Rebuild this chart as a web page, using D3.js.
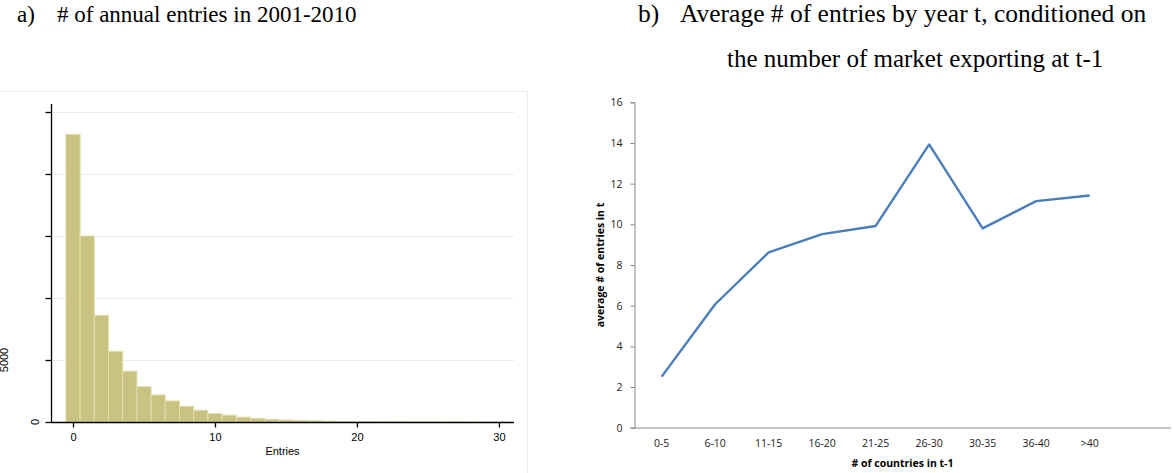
<!DOCTYPE html>
<meta charset="utf-8">
<html>
<body style="margin:0; background-color: white;">
<script src="https://d3js.org/d3.v7.min.js"></script>
<div id="chart"></div>
<script>

// panel a) histogram of annual entries (bins of width 1, centred on integers)
var entryBins = [0,1,2,3,4,5,6,7,8,9,10,11,12,13,14,15,16,17,18,19,20,21,22,23,24,25,26,27,28,29,30];
var entryCounts = [23200,15000,8600,5700,4100,2850,2180,1700,1270,950,680,550,390,300,220,160,130,100,70,40,30,20,15,10,8,5,4,3,2,1,1];
var histYTicks = [0,5000,10000,15000,20000,25000];
var histXTicks = [0,10,20,30];

// panel b) average entries by number of markets at t-1
var groups = ["0-5","6-10","11-15","16-20","21-25","26-30","30-35","36-40",">40"];
var avgEntries = [2.51,6.07,8.62,9.52,9.92,13.93,9.80,11.14,11.42];
var lineYTicks = [0,2,4,6,8,10,12,14,16];

var W = 1173, H = 473;

var svg = d3.select("#chart")
  .append("svg")
    .attr("width", W)
    .attr("height", H)
    .style("display", "block");

// ---------- titles (Times) ----------
var serif = "'Liberation Serif', 'Times New Roman', serif";
svg.append("text").attr("x", 17).attr("y", 22).text("a)")
  .attr("font-family", serif).attr("font-size", "23px");
svg.append("text").attr("x", 57).attr("y", 22).text("# of annual entries in 2001-2010")
  .attr("font-family", serif).attr("font-size", "23px");
svg.append("text").attr("x", 638).attr("y", 22).text("b)")
  .attr("font-family", serif).attr("font-size", "25.5px");
svg.append("text").attr("x", 680).attr("y", 22).text("Average # of entries by year t, conditioned on")
  .attr("font-family", serif).attr("font-size", "25.5px");
svg.append("text").attr("x", 727).attr("y", 67).text("the number of market exporting at t-1")
  .attr("font-family", serif).attr("font-size", "25px");

// ---------- panel a ----------
var sans = "'Liberation Sans', Arial, sans-serif";
var gA = svg.append("g");

// faint frame of the stata graph region
gA.append("line").attr("x1", 0).attr("x2", 527).attr("y1", 91.5).attr("y2", 91.5)
  .style("stroke", "#e6eef1");
gA.append("line").attr("x1", 527.5).attr("x2", 527.5).attr("y1", 91).attr("y2", H)
  .style("stroke", "#e6eef1");

var xA = d3.scaleLinear().domain([-1.549, 31.06]).range([51, 514]);
var yA = d3.scaleLinear().domain([0, 25645]).range([422, 104]);

// gridlines
gA.selectAll(".grid")
  .data(histYTicks.filter(function(d){ return d > 0; }))
  .enter()
  .append("line")
    .attr("x1", 52).attr("x2", 514)
    .attr("y1", function(d){ return yA(d) + 0.5; })
    .attr("y2", function(d){ return yA(d) + 0.5; })
    .style("stroke", "#e4eef1");

// bars
gA.selectAll("rect")
  .data(entryBins)
  .enter()
  .append("rect")
    .attr("x", function(d){ return xA(d - 0.5); })
    .attr("width", function(d){ return xA(d + 0.5) - xA(d - 0.5); })
    .attr("y", function(d, i){ return yA(entryCounts[i]); })
    .attr("height", function(d, i){ return yA(0) - yA(entryCounts[i]); })
    .attr("fill", "#c9c280")
    .style("stroke", "#e2deae")
    .style("stroke-width", 1);

// y axis
var yAxisA = gA.append("g")
  .attr("transform", "translate(51.5,0)")
  .call(d3.axisLeft(yA).tickValues(histYTicks).tickSize(6).tickFormat(""));
yAxisA.select(".domain").attr("d", "M0," + yA.range()[1] + "V" + (yA(0) + 0.5));
yAxisA.selectAll("line, path").style("stroke", "#000").style("stroke-width", 1.3);

gA.append("text")
  .attr("transform", "translate(39," + yA(0) + ") rotate(-90)")
  .attr("text-anchor", "middle")
  .attr("font-family", sans).attr("font-size", "11px")
  .text("0");
gA.append("text")
  .attr("transform", "translate(8," + yA(5000) + ") rotate(-90)")
  .attr("text-anchor", "middle")
  .attr("font-family", sans).attr("font-size", "11px")
  .text("5000");

// x axis
var xAxisA = gA.append("g")
  .attr("transform", "translate(0,422.5)")
  .call(d3.axisBottom(xA).tickValues(histXTicks).tickSize(5).tickPadding(6));
xAxisA.select(".domain").attr("d", "M51,0H514");
xAxisA.selectAll("line, path").style("stroke", "#000").style("stroke-width", 1.3);
xAxisA.selectAll("text").attr("font-family", sans).attr("font-size", "11px").attr("fill", "#000");

gA.append("text")
  .attr("x", 282.5).attr("y", 455)
  .attr("text-anchor", "middle")
  .attr("font-family", sans).attr("font-size", "11px")
  .text("Entries");

// ---------- panel b ----------
var excel = "'Open Sans', 'Noto Sans', sans-serif";
var gB = svg.append("g");

var xB = d3.scaleBand().domain(groups).range([634.9, 634.9 + 9 * 53.5]);
var yB = d3.scaleLinear().domain([0, 16]).range([427.7, 102.3]);

var yAxisB = gB.append("g")
  .attr("transform", "translate(634.5,0)")
  .call(d3.axisLeft(yB).tickValues(lineYTicks).tickSize(4).tickPadding(8));
yAxisB.selectAll("line, path").style("stroke", "#878787");
yAxisB.selectAll("text").attr("font-family", excel).attr("font-size", "10.5px").attr("fill", "#222");

var xAxisB = gB.append("g")
  .attr("transform", "translate(0,428)")
  .call(d3.axisBottom(xB).tickSize(0).tickPadding(12));
xAxisB.select(".domain").attr("d", "M634,0H1171");
xAxisB.selectAll("path").style("stroke", "#878787");
xAxisB.selectAll("text").attr("font-family", excel).attr("font-size", "10.5px").attr("fill", "#222");

var line = d3.line()
  .x(function(d, i){ return xB(groups[i]) + xB.bandwidth() / 2; })
  .y(function(d){ return yB(d); });

gB.append("path")
  .datum(avgEntries)
  .attr("d", line)
  .attr("fill", "none")
  .style("stroke", "#4a7ebb")
  .style("stroke-width", 2.4)
  .style("stroke-linejoin", "round");

gB.append("text")
  .attr("x", 902.5).attr("y", 467)
  .attr("text-anchor", "middle")
  .attr("font-family", excel).attr("font-size", "10.5px").attr("font-weight", "bold")
  .text("# of countries in t-1");

gB.append("text")
  .attr("transform", "translate(604,265) rotate(-90)")
  .attr("text-anchor", "middle")
  .attr("font-family", excel).attr("font-size", "10.5px").attr("font-weight", "bold")
  .text("average # of entries in t");

</script>
</body>
</html>
